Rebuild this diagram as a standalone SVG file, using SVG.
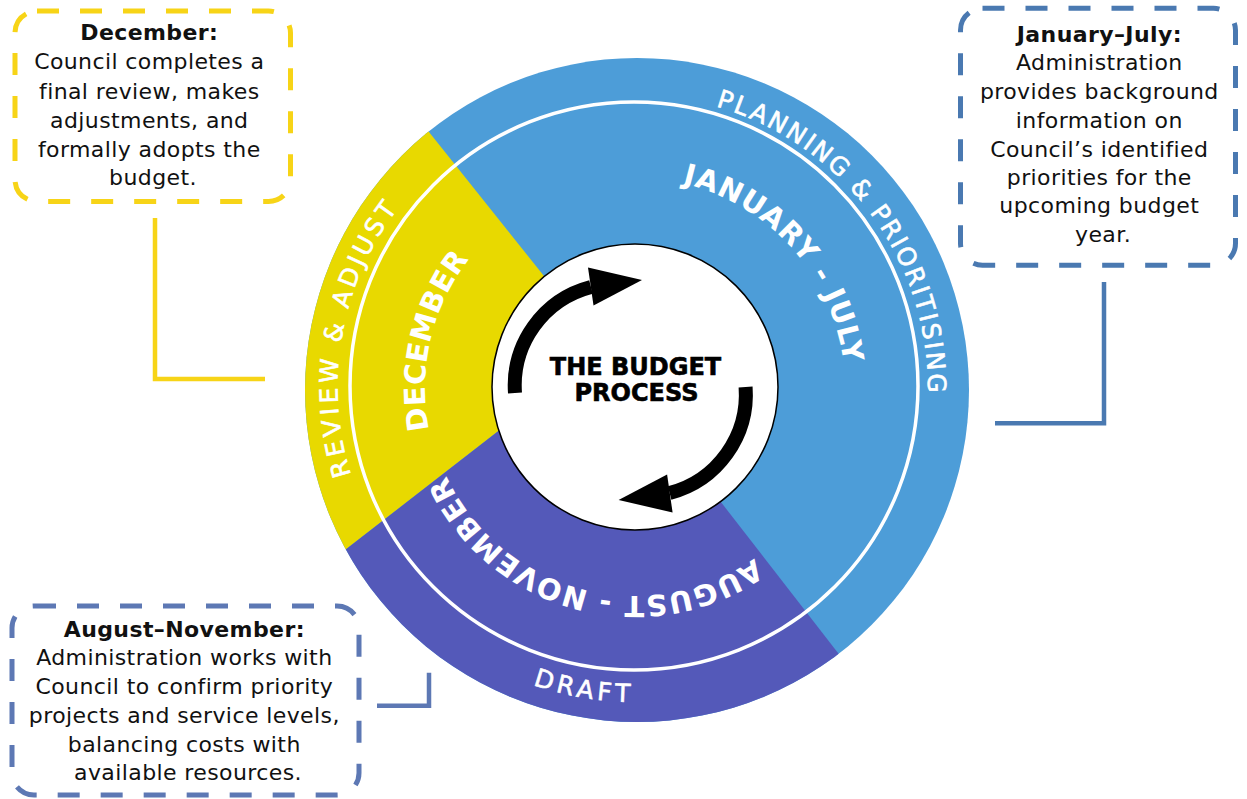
<svg xmlns="http://www.w3.org/2000/svg" xmlns:xlink="http://www.w3.org/1999/xlink" width="1247" height="799" viewBox="0 0 1247 799">
<style>
.outer{font-family:"DejaVu Sans","Liberation Sans",sans-serif;font-size:25px;fill:#fff;stroke:#fff;stroke-width:0.6px}
.inner{font-family:"DejaVu Sans","Liberation Sans",sans-serif;font-size:29px;font-weight:bold;fill:#fff}
.title{font-family:"DejaVu Sans","Liberation Sans",sans-serif;font-size:24px;font-weight:bold;fill:#000;stroke:#000;stroke-width:0.6px;text-anchor:middle}
.co{font-family:"DejaVu Sans","Liberation Sans",sans-serif;font-size:22px;fill:#111;text-anchor:middle;letter-spacing:0.4px}
.co .b{font-weight:bold}
.box{fill:#fff;stroke-width:5;stroke-dasharray:22 21}
.conn{fill:none;stroke-width:4.5}
</style>
<defs>
<clipPath id="disc"><circle cx="637" cy="390" r="332"/></clipPath>
<path id="pPlan" d="M715.8 106.3 A293 293 0 0 1 923.5 438.9"/>
<path id="pRev" d="M351.0 474.8 A294 294 0 0 1 444.1 160.5"/>
<path id="pDraft" d="M532.8 684.9 A314 314 0 0 0 689.5 697.2"/>
<path id="pJan" d="M682.2 183.4 A210 210 0 0 1 841.8 424.5"/>
<path id="pDec" d="M429.2 429.9 A210 210 0 0 1 500 227.1"/>
<path id="pAug" d="M754.3 558.4 A208 208 0 0 1 434.1 441.8"/>
</defs>
<g id="wheel">
<g id="seg-planning">
<circle cx="637" cy="390" r="332" fill="#4d9dd8"/>
</g>
<g id="seg-review" clip-path="url(#disc)">
<polygon points="603,350 342,23 216,23 216,650" fill="#e8d900"/>
</g>
<g id="seg-draft" clip-path="url(#disc)">
<polygon points="603,350 955.5,804.5 216,804.5 216,650" fill="#5459b9"/>
</g>
<circle cx="634" cy="386" r="284" fill="none" stroke="#fff" stroke-width="3.5"/>
<text class="outer"><textPath xlink:href="#pPlan" textLength="383" lengthAdjust="spacing">PLANNING &amp; PRIORITISING</textPath></text>
<text class="outer"><textPath xlink:href="#pRev" textLength="280" lengthAdjust="spacing">REVIEW &amp; ADJUST</textPath></text>
<text class="outer"><textPath xlink:href="#pDraft" textLength="99" lengthAdjust="spacing">DRAFT</textPath></text>
<text class="inner"><textPath xlink:href="#pJan" textLength="257" lengthAdjust="spacing">JANUARY - JULY</textPath></text>
<text class="inner"><textPath xlink:href="#pDec" textLength="181" lengthAdjust="spacing">DECEMBER</textPath></text>
<text class="inner"><textPath xlink:href="#pAug" textLength="363" lengthAdjust="spacing">AUGUST - NOVEMBER</textPath></text>
</g>
<g id="center">
<circle cx="635" cy="387" r="143" fill="#fff" stroke="#000" stroke-width="1.5"/>
<g id="arrow-up">
<path d="M515 393 A102 102 0 0 1 591 287" fill="none" stroke="#000" stroke-width="14"/>
<polygon points="642,280 588,267.5 593.5,305.5" fill="#000"/>
</g>
<g id="arrow-down" transform="rotate(180 630.3 390)">
<path d="M515 393 A102 102 0 0 1 591 287" fill="none" stroke="#000" stroke-width="14"/>
<polygon points="642,280 588,267.5 593.5,305.5" fill="#000"/>
</g>
<text class="title" x="635.5" y="375">THE BUDGET</text>
<text class="title" x="636.5" y="400.7">PROCESS</text>
</g>
<g id="connectors">
<path class="conn" d="M155 218 V379 H265" stroke="#f7d417"/>
<path class="conn" d="M1104 282 V423.3 H995" stroke="#4a79b1"/>
<path class="conn" d="M429 672.7 V705.8 H377" stroke="#5d78b4"/>
</g>
<g id="callout-december">
<rect class="box" x="15" y="11" width="275.5" height="190.5" rx="22" stroke="#f7d417"/>
<text class="co" x="153">
<tspan class="b" x="153" y="40">December:</tspan>
<tspan x="153" y="69">Council completes a</tspan>
<tspan x="153" y="98.5">final review, makes</tspan>
<tspan x="153" y="128">adjustments, and</tspan>
<tspan x="153" y="157">formally adopts the</tspan>
<tspan x="153" y="185">budget.</tspan>
</text>
</g>
<g id="callout-january-july">
<rect class="box" x="960.5" y="8.3" width="275" height="257" rx="22" stroke="#4a79b1"/>
<text class="co">
<tspan class="b" x="1103" y="41.5">January–July:</tspan>
<tspan x="1103" y="70">Administration</tspan>
<tspan x="1103" y="99">provides background</tspan>
<tspan x="1103" y="127.7">information on</tspan>
<tspan x="1103" y="156.7">Council’s identified</tspan>
<tspan x="1103" y="185">priorities for the</tspan>
<tspan x="1103" y="213.3">upcoming budget</tspan>
<tspan x="1103" y="242">year.</tspan>
</text>
</g>
<g id="callout-august-november">
<rect class="box" x="12" y="606" width="347" height="189" rx="22" stroke="#5d78b4"/>
<text class="co">
<tspan class="b" x="188" y="636.7">August–November:</tspan>
<tspan x="188" y="665">Administration works with</tspan>
<tspan x="188" y="694">Council to confirm priority</tspan>
<tspan x="188" y="722.7">projects and service levels,</tspan>
<tspan x="188" y="751.7">balancing costs with</tspan>
<tspan x="188" y="780">available resources.</tspan>
</text>
</g>
</svg>
